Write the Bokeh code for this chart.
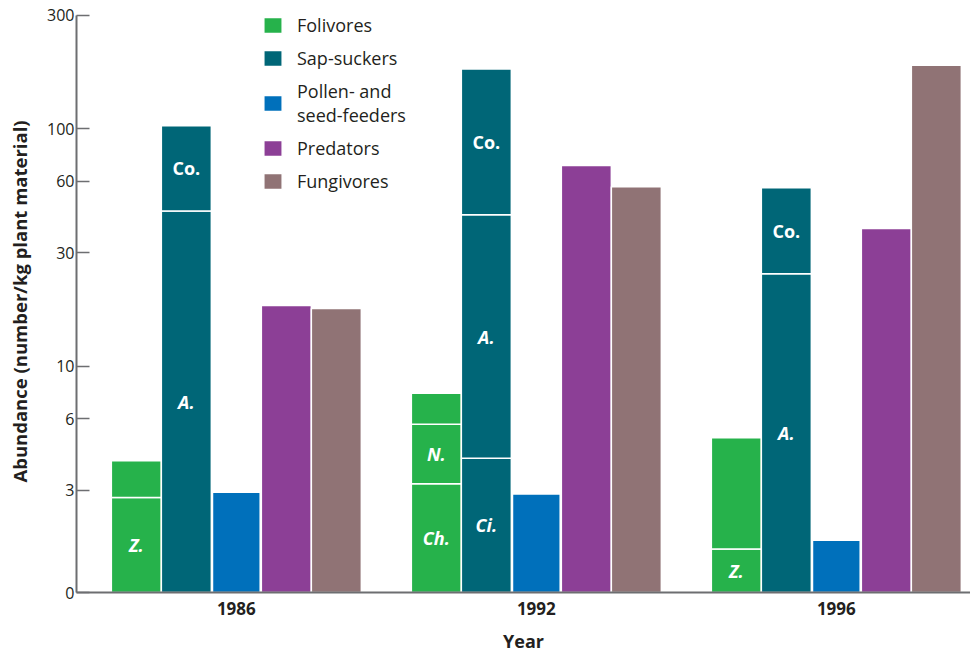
import math
from bokeh.plotting import figure
from bokeh.models import (ColumnDataSource, FixedTicker, CustomJSTickFormatter,
                          Legend, LegendItem, Range1d)
from bokeh.core.properties import value
from bokeh.embed import file_html
from bokeh.resources import INLINE

# ---------------- data ----------------
years = ["1986", "1992", "1996"]
categories = ["Folivores", "Sap-suckers", "Pollen- and\nseed-feeders", "Predators", "Fungivores"]

# stacked segments (bottom -> top) per year
folivore_labels = [["Z.", ""], ["Ch.", "N.", ""], ["Z.", ""]]
folivore_values = [[2.8, 1.2], [3.2, 2.5, 2.0], [1.7, 3.3]]
sapsucker_labels = [["A.", "Co."], ["Ci.", "A.", "Co."], ["A.", "Co."]]
sapsucker_values = [[45, 58], [4.1, 39.3, 135], [24.5, 32]]
pollen_values = [2.95, 2.9, 1.85]
predator_values = [18, 70, 38]
fungivore_values = [17.5, 57, 185]

y_ticks = [3, 6, 10, 30, 60, 100, 300]

# ---------------- style ----------------
colors = ["#26b24b", "#006677", "#0070bb", "#8c3f96", "#907375"]
TEXT = "#231f20"
AXIS = "#6d6e71"
FONT = "Open Sans"
FLOOR = 1.1152          # axis level labelled "0"
TOP = 314.7
offsets = [-1/3, -1/6, 0, 1/6, 1/3]
widths = [1/6, 1/6, 0.159, 1/6, 1/6]

p = figure(width=970, height=655, output_backend="svg", toolbar_location=None,
           x_range=Range1d(-0.5328, 2.4472), y_range=Range1d(FLOOR, TOP),
           y_axis_type="log",
           min_border_left=76, min_border_right=0, min_border_top=10, min_border_bottom=63)
p.outline_line_color = None
p.grid.visible = False

cat_labels = [folivore_labels, sapsucker_labels,
              [[""] for _ in years], [[""] for _ in years], [[""] for _ in years]]
cat_values = [folivore_values, sapsucker_values,
              [[v] for v in pollen_values], [[v] for v in predator_values],
              [[v] for v in fungivore_values]]

renderers = []
label_x, label_y, label_txt, label_style = [], [], [], []
for ci in range(len(categories)):
    xs, bottoms, tops = [], [], []
    for yi in range(len(years)):
        base = FLOOR
        cum = 0.0
        for lab, v in zip(cat_labels[ci][yi], cat_values[ci][yi]):
            cum += v
            top = max(cum, FLOOR)
            xs.append(yi + offsets[ci])
            bottoms.append(base)
            tops.append(top)
            if lab:
                label_x.append(yi + offsets[ci])
                label_y.append(math.sqrt(base * top))
                label_txt.append(lab)
                label_style.append("bold" if lab == "Co." else "bold italic")
            base = top
    src = ColumnDataSource(dict(x=xs, bottom=bottoms, top=tops))
    r = p.vbar(x="x", bottom="bottom", top="top", width=widths[ci], source=src,
               fill_color=colors[ci], line_color="white", line_width=1.5)
    renderers.append(r)

lab_src = ColumnDataSource(dict(x=label_x, y=label_y, text=label_txt, style=label_style))
p.text(x="x", y="y", text="text", source=lab_src, text_color="white",
       text_font=value(FONT), text_font_style="style", text_font_size="18px",
       text_align="center", text_baseline="middle")

# ---------------- axes ----------------
ya = p.yaxis[0]
ya.ticker = FixedTicker(ticks=[FLOOR] + y_ticks, minor_ticks=[])
ya.formatter = CustomJSTickFormatter(code="return tick < 2 ? '0' : tick.toFixed(0);")
ya.bounds = (FLOOR, 300)
ya.axis_line_color = AXIS
ya.axis_line_width = 2
ya.major_tick_in = 13
ya.major_tick_out = 0
ya.major_tick_line_color = AXIS
ya.major_tick_line_width = 1.5
ya.minor_tick_line_color = None
ya.major_label_text_font = FONT
ya.major_label_text_font_size = "16px"
ya.major_label_text_color = TEXT
ya.major_label_standoff = 2
ya.axis_label = "Abundance (number/kg plant material)"
ya.axis_label_text_font = FONT
ya.axis_label_text_font_style = "bold"
ya.axis_label_text_font_size = "18.5px"
ya.axis_label_text_color = TEXT
ya.axis_label_standoff = 12

xa = p.xaxis[0]
xa.ticker = FixedTicker(ticks=list(range(len(years))), minor_ticks=[])
xa.major_label_overrides = {i: y for i, y in enumerate(years)}
xa.axis_line_color = AXIS
xa.axis_line_width = 2
xa.major_tick_in = 0
xa.major_tick_out = 0
xa.minor_tick_line_color = None
xa.major_label_text_font = FONT
xa.major_label_text_font_style = "bold"
xa.major_label_text_font_size = "17px"
xa.major_label_text_color = TEXT
xa.major_label_standoff = 9
xa.axis_label = "Year"
xa.axis_label_text_font = FONT
xa.axis_label_text_font_style = "bold"
xa.axis_label_text_font_size = "18px"
xa.axis_label_text_color = TEXT
xa.axis_label_standoff = 11

# ---------------- legend ----------------
legend = Legend(items=[LegendItem(label=c, renderers=[r]) for c, r in zip(categories, renderers)],
                location=(185, 399), orientation="vertical",
                glyph_width=23, glyph_height=20, label_standoff=13, spacing=9,
                padding=0, margin=0, border_line_color=None, background_fill_alpha=0,
                label_text_font=FONT, label_text_font_size="18px", label_text_color=TEXT,
                label_text_line_height=0.95)
p.add_layout(legend)

open("out.html", "w").write(file_html(p, INLINE))
